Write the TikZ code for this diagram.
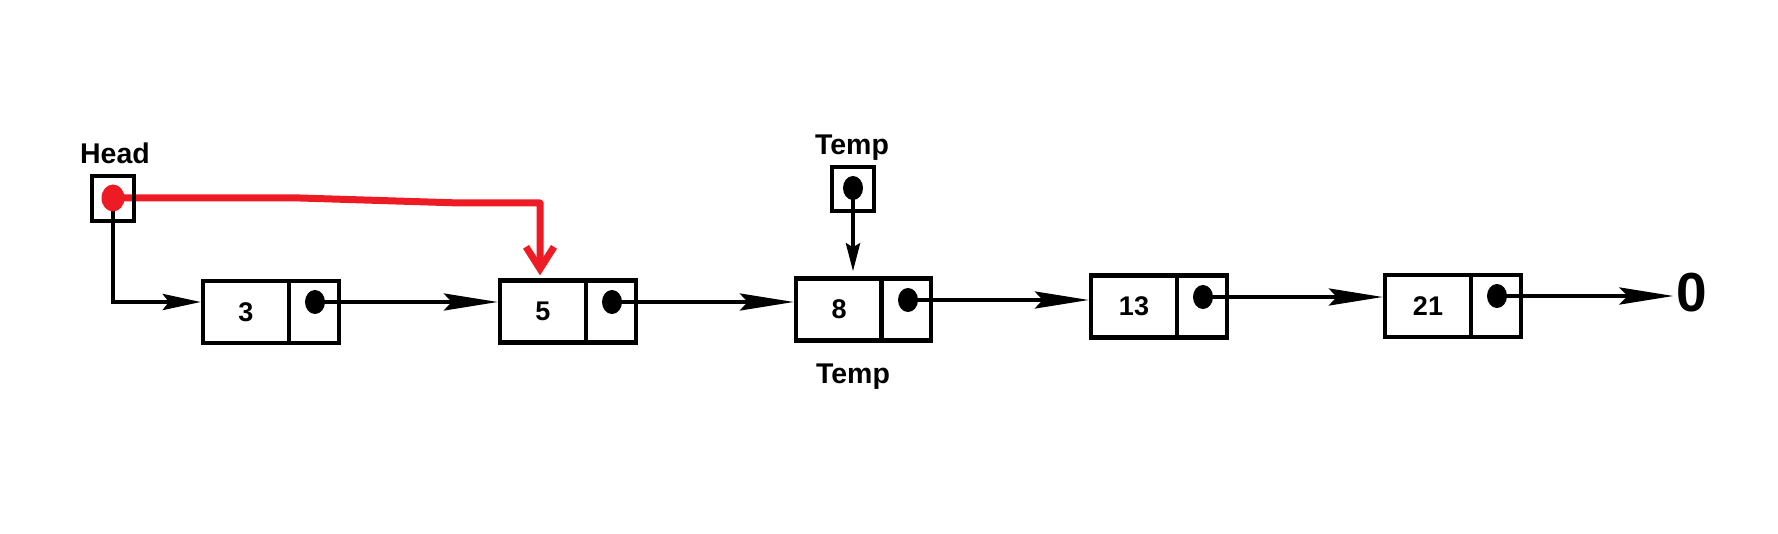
\documentclass[tikz,border=0pt]{standalone}
\usepackage{fontspec}
\setmainfont{Liberation Sans}
\usetikzlibrary{arrows.meta,shapes.geometric}
\definecolor{paintred}{RGB}{237,28,36}
\pgfdeclarelayer{bglayer}
\pgfsetlayers{bglayer,main}
\begin{document}
\begin{tikzpicture}[x=1pt,y=-1pt,
  llcell/.style={draw,line width=4.3pt,inner sep=0pt,minimum height=62pt,
    font=\fontsize{27}{30}\selectfont\bfseries},
  lldata/.style={llcell,minimum width=86pt},
  llptr/.style={llcell,minimum width=50pt},
  llbox/.style={draw,line width=4.3pt,inner sep=0pt,minimum width=42pt,minimum height=45pt},
  lldot/.style={ellipse,fill=black,inner sep=0pt,minimum width=20pt,minimum height=24pt},
  llreddot/.style={ellipse,fill=paintred,inner sep=0pt,minimum width=23pt,minimum height=27pt},
  lltext/.style={font=\fontsize{28.5}{32}\selectfont\bfseries,inner sep=0pt},
  lllink/.style={line width=4.3pt,-{Stealth[length=54pt,width=17pt,inset=8pt]}},
  llshort/.style={line width=4.3pt,-{Stealth[length=38pt,width=16pt,inset=6pt]}},
  lldown/.style={line width=4.3pt,-{Stealth[length=28pt,width=14pt,inset=4pt]}},
  llred/.style={draw=paintred,line width=7pt,line join=round,line cap=round,
    -{Straight Barb[length=22pt,width=28pt]}}
]
\useasboundingbox (0,0) rectangle (1778,534);

% Head pointer
\node[lltext] (headlbl) at (115,153) {Head};
\node[llbox] (head) at (113,198.5) {};
\node[llreddot] (hdot) at (113,198) {};

% Temp pointer
\node[lltext] (templbl) at (852,148) {Temp};
\node[llbox,minimum height=44pt] (temp) at (853,189) {};
\node[lldot] (tdot) at (853,188) {};

% list nodes
\node[lldata] (d3) at (246,312) {3};
\node[llptr] (q3) at (314,312) {};
\node[lldot] (p3) at (315,302) {};

\node[lldata] (d5) at (543,311.5) {5};
\node[llptr] (q5) at (611,311.5) {};
\node[lldot] (p5) at (612,302) {};

\node[lldata] (d8) at (839,309.5) {8};
\node[llptr] (q8) at (906,309.5) {};
\node[lldot] (p8) at (908,300) {};

\node[lldata] (d13) at (1134,306.5) {13};
\node[llptr] (q13) at (1202,306.5) {};
\node[lldot] (p13) at (1203,297) {};

\node[lldata] (d21) at (1428,306) {21};
\node[llptr] (q21) at (1496,306) {};
\node[lldot] (p21) at (1497,296) {};

\node[lltext] (templbl2) at (853,376.5) {Temp};
\node[font=\fontsize{55}{60}\selectfont\bfseries,inner sep=3pt] (zero) at (1692,293) {0};

\coordinate (rc) at (540,203);

\begin{pgfonlayer}{bglayer}
  \draw[llshort] (hdot.center) |- (d3.west |- p3.center);
  \draw[lllink] (p3.center) -- (d5.west |- p3.center);
  \draw[lllink] (p5.center) -- (d8.west |- p5.center);
  \draw[lllink] (p8.center) -- (d13.west |- p8.center);
  \draw[lllink] (p13.center) -- (d21.west |- p13.center);
  \draw[lllink] (p21.center) -- (zero.west |- p21.center);
  \draw[lldown,shorten >=5pt] (tdot.center) -- (tdot.center |- d8.north);
  \draw[llred,shorten >=3pt] (hdot.center) -- ++(187,0) -- ++(160,5) -- (rc) -- (rc |- d5.north);
\end{pgfonlayer}
\end{tikzpicture}
\end{document}
